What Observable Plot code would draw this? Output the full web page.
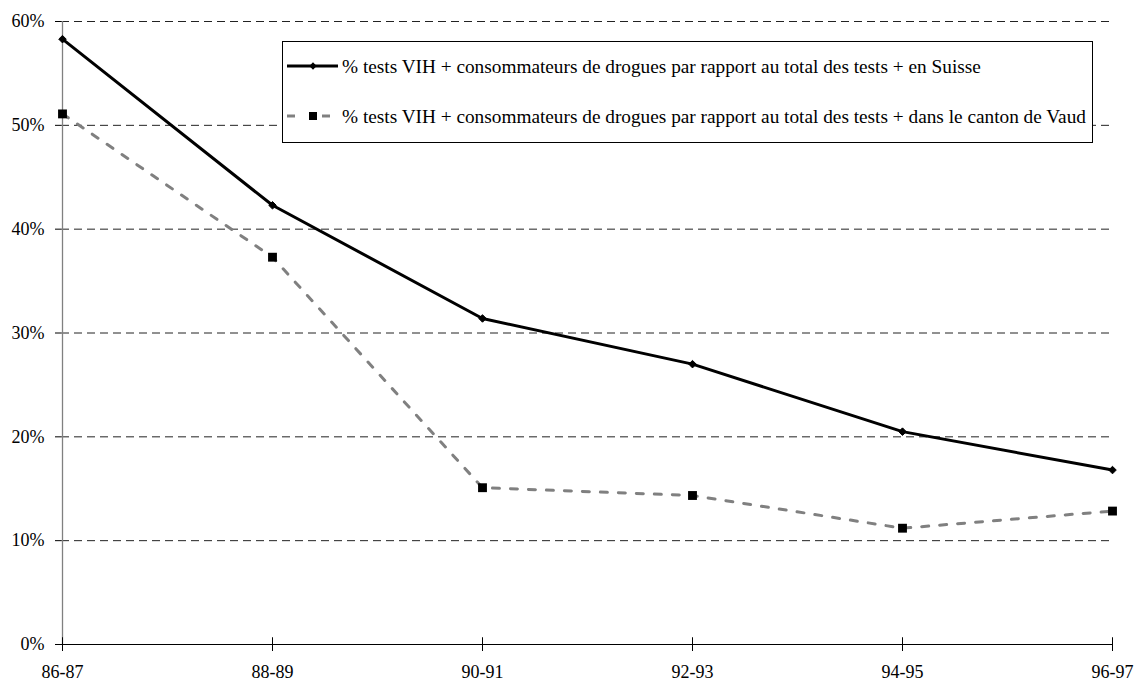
<!DOCTYPE html>
<html>
<head>
<meta charset="utf-8">
<script src="https://cdn.jsdelivr.net/npm/d3@7"></script>
<script src="https://cdn.jsdelivr.net/npm/@observablehq/plot@0.6"></script>
<style>
  html, body { margin: 0; padding: 0; background: #fff; }
  #wrap { position: relative; width: 1138px; height: 682px; font-family: "Liberation Serif", serif; }
  #legend { position: absolute; left: 282px; top: 41px; }
</style>
</head>
<body>
<div id="wrap"></div>
<script>
const periods = ["86-87", "88-89", "90-91", "92-93", "94-95", "96-97"];
const suisse = [58.3, 42.3, 31.4, 27.0, 20.5, 16.8];
const vaud = [51.1, 37.3, 15.1, 14.35, 11.2, 12.85];
const yTicks = [0, 10, 20, 30, 40, 50, 60];
const labelSuisse = "% tests VIH + consommateurs de drogues par rapport au total des tests + en Suisse";
const labelVaud = "% tests VIH + consommateurs de drogues par rapport au total des tests + dans le canton de Vaud";

const FONT = "Liberation Serif";
const dS = periods.map((p, i) => ({period: p, value: suisse[i]}));
const dV = periods.map((p, i) => ({period: p, value: vaud[i]}));

const chart = Plot.plot({
  width: 1138,
  height: 682,
  marginLeft: 61,
  marginRight: 25,
  marginTop: 21,
  marginBottom: 38,
  style: {fontFamily: FONT, fontSize: "18px", color: "#000", background: "#fff"},
  x: {type: "point", domain: periods, padding: 0},
  y: {domain: [0, 60]},
  marks: [
    Plot.gridY(yTicks.filter(d => d > 0), {stroke: "#222", strokeOpacity: 1, strokeDasharray: "8,5", strokeWidth: 1}),
    Plot.ruleX([periods[0]], {stroke: "#808080", strokeWidth: 1.3}),
    Plot.ruleY([0], {stroke: "#000", strokeWidth: 1}),
    Plot.ruleX(periods, {y1: 0, y2: 0.65, stroke: "#000", strokeWidth: 1}),
    Plot.axisY({ticks: yTicks, tickSize: 6, tickPadding: 11, tickFormat: d => d + "%", label: null, fontSize: 18}),
    Plot.axisX({tickSize: 7, tickPadding: 14, label: null, fontSize: 18}),
    Plot.line(dV, {x: "period", y: "value", stroke: "#808080", strokeWidth: 3, strokeDasharray: "7,11"}),
    Plot.line(dS, {x: "period", y: "value", stroke: "#000", strokeWidth: 3}),
    Plot.dot(dV, {x: "period", y: "value", symbol: "square", r: 5, fill: "#000", stroke: "none"}),
    Plot.dot(dS, {x: "period", y: "value", symbol: "diamond2", r: 3.4, fill: "#000", stroke: "#000", strokeWidth: 1})
  ]
});
const wrap = document.getElementById("wrap");
wrap.appendChild(chart);

// Legend (overlay box)
const lw = 811, lh = 102;
const leg = d3.select(wrap).append("svg").attr("id", "legend").attr("width", lw).attr("height", lh);
leg.append("rect").attr("x", 0.5).attr("y", 0.5).attr("width", lw - 1).attr("height", lh - 1)
  .attr("fill", "#fff").attr("stroke", "#000").attr("stroke-width", 1);
const rows = [
  {y: 25, label: labelSuisse, stroke: "#000", segs: [[5, 56]], sym: d3.symbolDiamond2, size: 34},
  {y: 75, label: labelVaud, stroke: "#808080", segs: [[5, 13], [40, 48]], sym: d3.symbolSquare, size: 64}
];
rows.forEach(r => {
  r.segs.forEach(([a, b]) => leg.append("line").attr("x1", a).attr("x2", b).attr("y1", r.y).attr("y2", r.y)
    .attr("stroke", r.stroke).attr("stroke-width", 3));
  leg.append("path").attr("d", d3.symbol(r.sym, r.size)()).attr("transform", `translate(31,${r.y})`).attr("fill", "#000");
  leg.append("text").attr("x", 60).attr("y", r.y + 6.5).attr("font-size", 19.3)
    .attr("font-family", FONT).attr("fill", "#000").text(r.label);
});
</script>
</body>
</html>
